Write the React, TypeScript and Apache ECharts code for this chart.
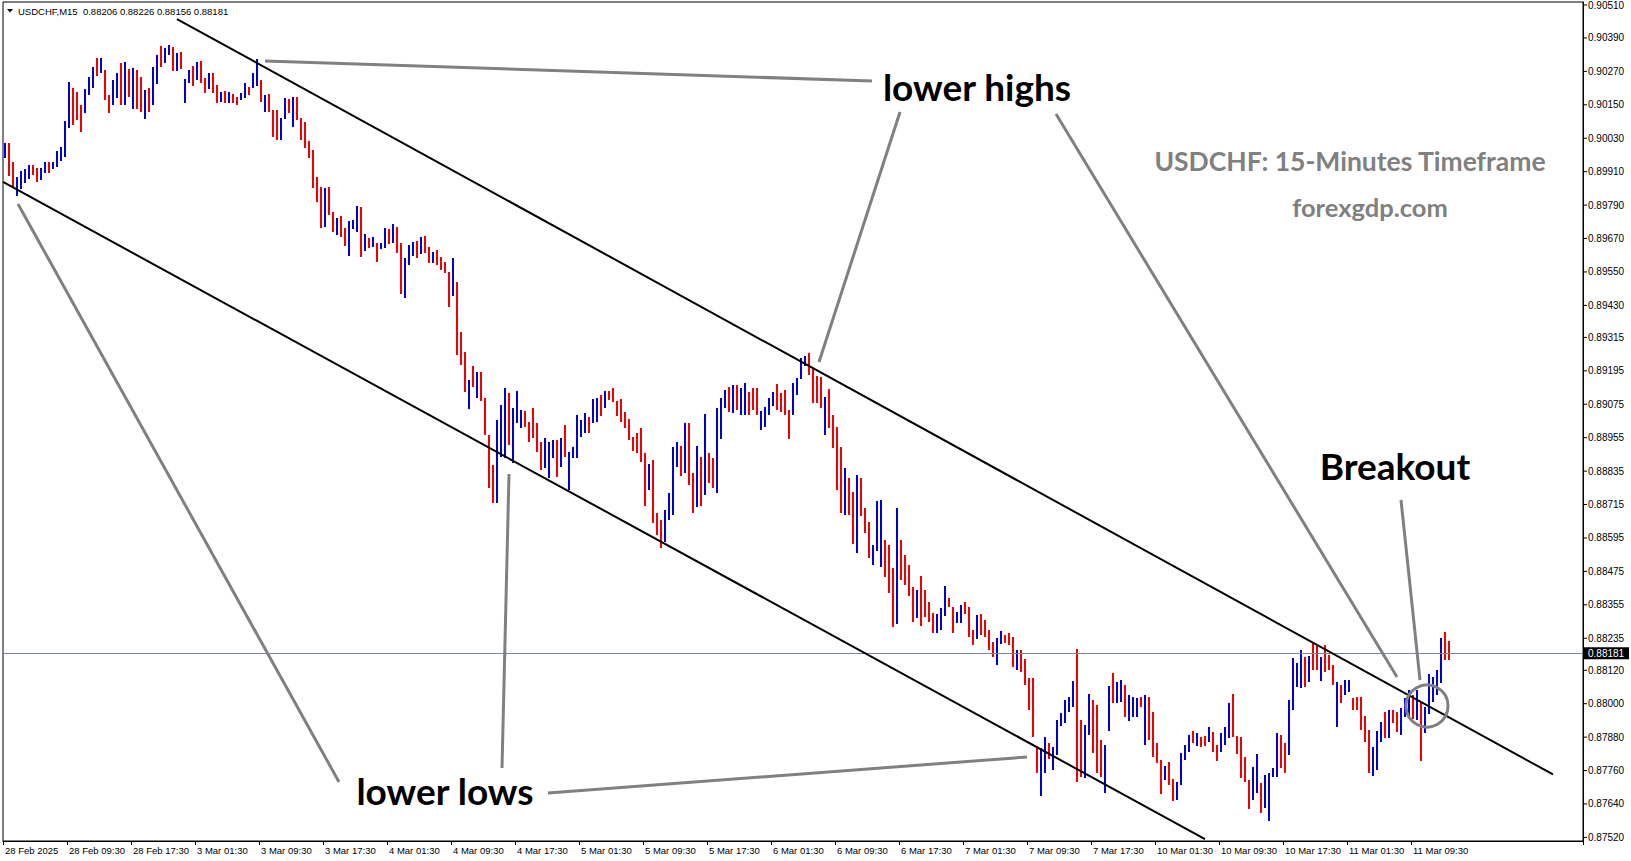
import React, { useEffect, useRef } from "react";
import * as echarts from "echarts";

// ---------- data (prices in points, 1 point = 0.00001) ----------
const TICK_LABELS = [
  "28 Feb 2025", "28 Feb 09:30", "28 Feb 17:30", "3 Mar 01:30", "3 Mar 09:30", "3 Mar 17:30",
  "4 Mar 01:30", "4 Mar 09:30", "4 Mar 17:30", "5 Mar 01:30", "5 Mar 09:30", "5 Mar 17:30",
  "6 Mar 01:30", "6 Mar 09:30", "6 Mar 17:30", "7 Mar 01:30", "7 Mar 09:30", "7 Mar 17:30",
  "10 Mar 01:30", "10 Mar 09:30", "10 Mar 17:30", "11 Mar 01:30", "11 Mar 09:30",
];
const BARS_PER_LABEL = 16; // 30-minute bars, a label every 8 hours
const TOTAL_SLOTS = 395; // bars + right-hand shift space

const Y_TICKS = [
  0.9051, 0.9039, 0.9027, 0.9015, 0.9003, 0.8991, 0.8979, 0.8967, 0.8955, 0.8943, 0.89315,
  0.89195, 0.89075, 0.88955, 0.88835, 0.88715, 0.88595, 0.88475, 0.88355, 0.88235, 0.8812,
  0.88, 0.8788, 0.8776, 0.8764, 0.8752,
];
const PRICE_MIN = 0.875071;
const PRICE_MAX = 0.905191;
const CURRENT_PRICE = 0.88181;
const HEADER = "USDCHF,M15  0.88206 0.88226 0.88156 0.88181";

const HIGH = [
  90012, 90012, 89945, 89891, 89912, 89919, 89934, 89934, 89923, 89923,
  89945, 89945, 89945, 89984, 89998, 90091, 90233, 90210, 90196, 90149,
  90206, 90251, 90286, 90319, 90319, 90276, 90185, 90240, 90265, 90300,
  90304, 90279, 90283, 90276, 90251, 90203, 90210, 90286, 90329, 90362,
  90355, 90365, 90358, 90337, 90341, 90244, 90276, 90290, 90304, 90307,
  90248, 90265, 90265, 90220, 90196, 90199, 90196, 90189, 90178, 90192,
  90227, 90213, 90265, 90315, 90240, 90185, 90189, 90132, 90132, 90103,
  90175, 90171, 90178, 90178, 90103, 90088, 90019, 89988, 89891, 89855,
  89852, 89855, 89766, 89745, 89752, 89708, 89733, 89737, 89787, 89783,
  89687, 89673, 89676, 89654, 89654, 89708, 89704, 89722, 89711, 89654,
  89601, 89647, 89658, 89661, 89676, 89680, 89640, 89622, 89630, 89604,
  89586, 89551, 89601, 89514, 89335, 89263, 89162, 89212, 89191, 89191,
  89098, 88965, 88857, 89019, 89072, 89134, 89115, 89062, 89123, 89055,
  89051, 89011, 89062, 89007, 88940, 88955, 88940, 88947, 88947, 88955,
  89000, 88904, 88922, 89037, 89019, 89044, 89030, 89094, 89098, 89108,
  89123, 89123, 89134, 89086, 89094, 89048, 89023, 88958, 88972, 88990,
  88900, 88861, 88875, 88685, 88660, 88696, 88757, 88922, 88940, 88926,
  89007, 89007, 88829, 88926, 88886, 89041, 88900, 88883, 89062, 89098,
  89127, 89137, 89144, 89144, 89134, 89151, 89120, 89134, 89134, 89051,
  89065, 89098, 89120, 89148, 89115, 89127, 89055, 89151, 89170, 89242,
  89249, 89259, 89205, 89177, 89173, 89101, 89130, 89037, 88993, 88922,
  88847, 88811, 88761, 88822, 88811, 88703, 88653, 88569, 88728, 88732,
  88587, 88569, 88487, 88703, 88587, 88534, 88497, 88419, 88408, 88459,
  88408, 88365, 88326, 88323, 88344, 88423, 88380, 88347, 88330, 88354,
  88365, 88347, 88265, 88319, 88323, 88300, 88265, 88222, 88237, 88261,
  88247, 88254, 88240, 88193, 88193, 88161, 88093, 88093, 87845, 87842,
  87881, 87859, 87845, 87942, 87967, 88014, 88025, 88081, 88196, 87942,
  87924, 88036, 88014, 87995, 87870, 87852, 88064, 88111, 88078, 88085,
  88067, 88032, 88025, 88022, 88025, 88032, 88025, 87971, 87859, 87797,
  87776, 87790, 87730, 87719, 87824, 87852, 87888, 87902, 87895, 87881,
  87885, 87917, 87899, 87852, 87895, 87917, 88002, 88036, 87885, 87881,
  87807, 87726, 87772, 87821, 87715, 87744, 87751, 87769, 87895, 87888,
  87859, 88014, 88165, 88146, 88193, 88168, 88172, 88218, 88207, 88168,
  88211, 88175, 88139, 88078, 88067, 88085, 88085, 88022, 88025, 88025,
  87957, 87907, 87845, 87902, 87935, 87971, 87978, 87978, 87971, 87985,
  88022, 88050, 88032, 88050, 88006, 87988, 88107, 88096, 88122, 88237,
  88258, 88226,
];
const LOW = [
  89960, 89895, 89855, 89823, 89848, 89869, 89884, 89898, 89873, 89880,
  89905, 89905, 89919, 89926, 89948, 89963, 90067, 90077, 90095, 90053,
  90120, 90185, 90210, 90255, 90265, 90167, 90120, 90149, 90175, 90149,
  90149, 90178, 90135, 90135, 90124, 90099, 90124, 90149, 90224, 90286,
  90300, 90329, 90272, 90272, 90279, 90156, 90227, 90217, 90240, 90227,
  90192, 90206, 90192, 90156, 90160, 90156, 90156, 90156, 90149, 90167,
  90175, 90185, 90210, 90217, 90160, 90124, 90124, 90035, 90023, 90023,
  90099, 90120, 90070, 90095, 90023, 89995, 89960, 89852, 89801, 89708,
  89711, 89755, 89694, 89683, 89676, 89644, 89608, 89704, 89694, 89604,
  89626, 89637, 89640, 89586, 89633, 89637, 89651, 89654, 89618, 89472,
  89458, 89575, 89608, 89601, 89615, 89618, 89582, 89582, 89575, 89558,
  89547, 89425, 89465, 89252, 89215, 89120, 89058, 89137, 89098, 89086,
  88965, 88775, 88721, 88721, 88886, 88883, 88929, 88864, 89007, 88990,
  88993, 88940, 88955, 88904, 88840, 88847, 88811, 88883, 88814, 88850,
  88886, 88768, 88883, 88883, 88958, 88972, 88972, 89007, 89011, 89034,
  89062, 89090, 89083, 89034, 89011, 88990, 88947, 88907, 88900, 88868,
  88710, 88768, 88649, 88605, 88559, 88580, 88660, 88678, 88850, 88819,
  88829, 88785, 88685, 88706, 88710, 88750, 88792, 88775, 88757, 88951,
  89062, 89048, 89044, 89055, 89037, 89037, 89037, 89055, 89037, 88983,
  88993, 89037, 89069, 89055, 89048, 89037, 88951, 89037, 89108, 89166,
  89212, 89180, 89079, 89079, 89062, 88965, 88990, 88919, 88768, 88685,
  88678, 88678, 88573, 88541, 88675, 88612, 88524, 88497, 88548, 88490,
  88455, 88397, 88275, 88286, 88444, 88426, 88387, 88293, 88308, 88279,
  88312, 88293, 88254, 88254, 88265, 88316, 88347, 88254, 88289, 88289,
  88323, 88240, 88211, 88233, 88247, 88240, 88193, 88168, 88139, 88215,
  88218, 88211, 88132, 88122, 88115, 88067, 87978, 87881, 87751, 87669,
  87751, 87801, 87762, 87817, 87921, 87931, 87971, 87988, 87719, 87737,
  87734, 87888, 87824, 87751, 87737, 87679, 87902, 88002, 88002, 88006,
  87953, 87938, 87953, 87953, 87988, 87852, 87870, 87810, 87786, 87676,
  87726, 87708, 87650, 87654, 87708, 87797, 87828, 87859, 87849, 87845,
  87849, 87863, 87828, 87793, 87828, 87852, 87878, 87881, 87821, 87734,
  87719, 87622, 87654, 87679, 87608, 87626, 87578, 87737, 87737, 87769,
  87751, 87817, 87978, 88060, 88057, 88060, 88078, 88122, 88122, 88081,
  88115, 88122, 88067, 87917, 88002, 88032, 88043, 87978, 87978, 87907,
  87863, 87751, 87741, 87762, 87863, 87878, 87878, 87931, 87899, 87888,
  87953, 87950, 87946, 87942, 87793, 87895, 87964, 88006, 88032, 88074,
  88157, 88156,
];
// u = up bar (blue), d = down bar (red)
const DIR =
  "udduuuuddu" + "uduuuuuddd" + "uuududduud" + "ududduduud" + "uududuudud" +
  "duddududdu" + "uduududddu" + "ududdddddd" + "uddudduuud" + "ududuududd" +
  "uuududdudd" + "ddudddudud" + "ddduuuduuu" + "ddddduuudu" + "duuuuuduud" +
  "uddddddddd" + "duddduuuud" + "uddududduu" + "ududuudddu" + "uuudddduuu" +
  "uddddudddd" + "udduddduuu" + "ddduddddud" + "ddduuudduu" + "dddudddduu" +
  "dddudddddu" + "uduuuuuudd" + "uuddduuduu" + "duuududddd" + "udduuuudud" +
  "dudduuuddd" + "dduuduuuud" + "duuuududdu" + "ddduduuddd" + "dduuududdu" +
  "uududuuuuu" + "dd";

// trend channel anchors: [bar index, price]
const CHANNEL_UPPER: [number, number][] = [[43, 0.90458], [387, 0.87746]];
const CHANNEL_LOWER: [number, number][] = [[0, 0.89869], [300, 0.87514]];

// ---------- layout / styles ----------
const W = 1631;
const H = 861;
const GRID = { left: 3, top: 2, width: 1580, height: 839 };
const BLUE = "#0000d0";
const RED = "#f00000";
const GREY = "#808080";
const PRICE_LINE = "#7a8898";
const AXIS_FONT = "Liberation Sans";
const NOTE_FONT = "Lato";

export default function App() {
  const ref = useRef<HTMLDivElement>(null);

  useEffect(() => {
    if (!ref.current) return;
    const chart = echarts.init(ref.current, null, { renderer: "svg", width: W, height: H });

    const isLabelIdx = (i: number) =>
      i % BARS_PER_LABEL === 0 && i / BARS_PER_LABEL < TICK_LABELS.length;
    const cats = Array.from({ length: TOTAL_SLOTS }, (_, i) =>
      isLabelIdx(i) ? TICK_LABELS[i / BARS_PER_LABEL] : ""
    );

    const data = HIGH.map((h, i) => [i, h / 1e5, LOW[i] / 1e5, DIR[i] === "u" ? 1 : 0]);

    chart.setOption({
      animation: false,
      backgroundColor: "#ffffff",
      grid: {
        ...GRID,
        show: true,
        borderColor: "#000",
        borderWidth: 1,
        backgroundColor: "transparent",
      },
      xAxis: {
        type: "category",
        data: cats,
        boundaryGap: true,
        axisLine: { show: true, lineStyle: { color: "#000", width: 1 } },
        axisTick: {
          show: true,
          interval: (i: number) => isLabelIdx(i),
          length: 4,
          lineStyle: { color: "#000" },
        },
        axisLabel: {
          interval: 0,
          align: "left",
          margin: 4,
          fontSize: 9.5,
          fontFamily: AXIS_FONT,
          color: "#000",
        },
        splitLine: { show: false },
      },
      yAxis: {
        type: "value",
        position: "right",
        min: PRICE_MIN,
        max: PRICE_MAX,
        scale: true,
        axisLine: { show: true, lineStyle: { color: "#000", width: 1 } },
        axisTick: { show: false },
        axisLabel: { show: false },
        splitLine: { show: false },
      },
      series: [
        {
          type: "custom",
          data,
          encode: { x: 0, y: [1, 2] },
          renderItem: (_params: any, api: any) => {
            const i = api.value(0);
            const top = api.coord([i, api.value(1)]);
            const bot = api.coord([i, api.value(2)]);
            const x = Math.round(top[0]) - 1;
            const y1 = Math.round(top[1]);
            const y2 = Math.round(bot[1]);
            return {
              type: "rect",
              shape: { x, y: y1, width: 2, height: Math.max(1, y2 - y1) },
              style: { fill: api.value(3) === 1 ? BLUE : RED },
            };
          },
        },
      ],
    });

    const toPx = (i: number, p: number) =>
      chart.convertToPixel({ gridIndex: 0 } as any, [i, p]) as number[];
    const yOf = (p: number) => chart.convertToPixel({ yAxisIndex: 0 } as any, p) as number;

    const g: any[] = [];
    const axisX = GRID.left + GRID.width;

    // current price line
    const yp = yOf(CURRENT_PRICE);
    const ypr = Math.round(yp) + 0.5;
    g.push({
      type: "line",
      z: 5,
      shape: { x1: GRID.left, y1: ypr, x2: axisX, y2: ypr },
      style: { stroke: PRICE_LINE, lineWidth: 1 },
    });

    // y axis labels and ticks
    Y_TICKS.forEach((v) => {
      const y = Math.max(yOf(v), 5);
      g.push({
        type: "line",
        z: 20,
        shape: { x1: axisX, y1: y, x2: axisX + 4, y2: y },
        style: { stroke: "#000", lineWidth: 1 },
      });
      g.push({
        type: "text",
        z: 20,
        x: axisX + 5,
        y,
        style: {
          text: v.toFixed(5),
          fill: "#000",
          fontSize: 10,
          fontFamily: AXIS_FONT,
          align: "left",
          verticalAlign: "middle",
        },
      });
    });

    // current price tag
    g.push({
      type: "rect",
      z: 21,
      shape: { x: axisX + 1, y: yp - 6, width: 45, height: 12 },
      style: { fill: "#000" },
    });
    g.push({
      type: "text",
      z: 22,
      x: axisX + 5,
      y: yp,
      style: {
        text: CURRENT_PRICE.toFixed(5),
        fill: "#fff",
        fontSize: 10,
        fontFamily: AXIS_FONT,
        align: "left",
        verticalAlign: "middle",
      },
    });

    // header
    g.push({
      type: "polygon",
      z: 20,
      shape: { points: [[7, 9], [13, 9], [10, 12.5]] },
      style: { fill: "#000" },
    });
    g.push({
      type: "text",
      z: 20,
      x: 18,
      y: 11,
      style: {
        text: HEADER,
        fill: "#000",
        fontSize: 9.5,
        fontFamily: AXIS_FONT,
        align: "left",
        verticalAlign: "middle",
      },
    });

    // channel lines
    const u0 = toPx(CHANNEL_UPPER[0][0], CHANNEL_UPPER[0][1]);
    const u1 = toPx(CHANNEL_UPPER[1][0], CHANNEL_UPPER[1][1]);
    g.push({
      type: "line",
      z: 15,
      shape: { x1: u0[0], y1: u0[1], x2: u1[0], y2: u1[1] },
      style: { stroke: "#000", lineWidth: 2 },
    });
    const l0 = toPx(CHANNEL_LOWER[0][0], CHANNEL_LOWER[0][1]);
    const l1 = toPx(CHANNEL_LOWER[1][0], CHANNEL_LOWER[1][1]);
    const slope = (l1[1] - l0[1]) / (l1[0] - l0[0]);
    const lx0 = GRID.left;
    const ly0 = l0[1] + (lx0 - l0[0]) * slope;
    g.push({
      type: "line",
      z: 15,
      shape: { x1: lx0, y1: ly0, x2: l1[0], y2: l1[1] },
      style: { stroke: "#000", lineWidth: 2 },
    });

    // grey pointer lines
    const pointers = [
      [265, 61, 872, 81],
      [900, 112, 819, 362],
      [1056, 114, 1397, 677],
      [1401, 500, 1420, 680],
      [18, 204, 339, 782],
      [509, 474, 502, 768],
      [548, 793, 1027, 757],
    ];
    pointers.forEach(([x1, y1, x2, y2]) =>
      g.push({
        type: "line",
        z: 16,
        shape: { x1, y1, x2, y2 },
        style: { stroke: GREY, lineWidth: 3 },
      })
    );
    g.push({
      type: "circle",
      z: 16,
      shape: { cx: 1427, cy: 706, r: 21 },
      style: { fill: "none", stroke: GREY, lineWidth: 3 },
    });

    // annotation texts
    const note = (text: string, x: number, y: number, size: number, color: string) =>
      g.push({
        type: "text",
        z: 25,
        x,
        y,
        style: {
          text,
          fill: color,
          fontSize: size,
          fontFamily: NOTE_FONT,
          fontWeight: "bold",
          align: "center",
          verticalAlign: "middle",
        },
      });
    note("lower highs", 977, 86, 37, "#000");
    note("lower lows", 445, 790, 37, "#000");
    note("Breakout", 1395, 465, 37, "#000");
    note("USDCHF: 15-Minutes Timeframe", 1350, 161, 26.5, GREY);
    note("forexgdp.com", 1370, 207, 25.5, GREY);

    chart.setOption({ graphic: g });

    return () => chart.dispose();
  }, []);

  return (
    <div
      ref={ref}
      style={{ position: "fixed", left: 0, top: 0, width: W, height: H, background: "#fff" }}
    />
  );
}
